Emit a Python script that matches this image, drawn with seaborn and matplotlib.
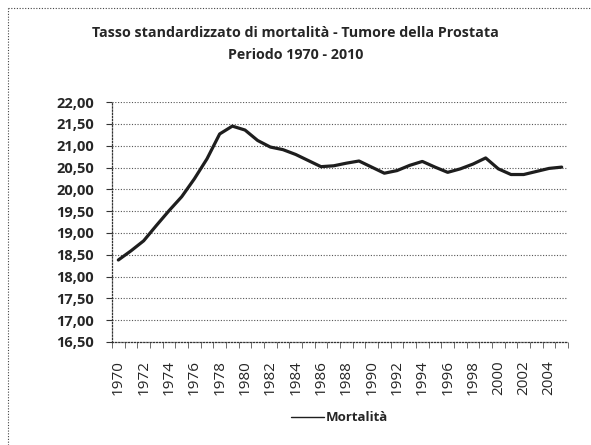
import matplotlib
matplotlib.use("Agg")
import matplotlib.pyplot as plt
import matplotlib.ticker as mticker
from matplotlib.lines import Line2D
import seaborn as sns
import pandas as pd

years = list(range(1970, 2006))
mortalita = [18.38, 18.59, 18.82, 19.17, 19.51, 19.83, 20.24, 20.70, 21.27, 21.45,
             21.36, 21.12, 20.97, 20.91, 20.80, 20.66, 20.52, 20.54, 20.60, 20.65,
             20.51, 20.37, 20.43, 20.55, 20.64, 20.51, 20.39, 20.47, 20.58, 20.72,
             20.47, 20.34, 20.34, 20.41, 20.48, 20.51]
series_name = "Mortalità"
title_lines = ["Tasso standardizzato di mortalità - Tumore della Prostata",
               "Periodo 1970 - 2010"]

df = pd.DataFrame({"Anno": years, series_name: mortalita})

sns.set_style("white")
plt.rcParams['font.family'] = ['Open Sans', 'DejaVu Sans']

fig = plt.figure(figsize=(5.91, 4.45), dpi=100)
ax = fig.add_axes([0.1895, 0.2315, 0.7716, 0.539])

sns.lineplot(data=df, x="Anno", y=series_name, ax=ax, color="#1e1e1e",
             linewidth=2.3, legend=False)

ax.set_xlim(1969.5, 2005.5)
ax.set_ylim(16.5, 22.0)
yvals = [16.5 + 0.5 * i for i in range(12)]
ax.set_yticks(yvals)
ax.set_yticklabels([f"{v:.2f}".replace(".", ",") for v in yvals],
                   fontweight="bold", fontsize=10.5)
ax.set_xticks(years[::2])
ax.set_xticklabels([str(y) for y in years[::2]], rotation=90, fontsize=11)
ax.xaxis.set_minor_locator(mticker.FixedLocator([y + 0.5 for y in range(1969, 2006)]))
ax.set_xlabel("")
ax.set_ylabel("")

ax.grid(axis="y", color="#555555", linestyle=(0, (1, 1.5)), linewidth=0.8)
ax.grid(axis="x", visible=False)
for s in ["top", "right"]:
    ax.spines[s].set_visible(False)
for s in ["left", "bottom"]:
    ax.spines[s].set_color("#333333")
    ax.spines[s].set_linestyle((0, (1, 1.5)))
    ax.spines[s].set_linewidth(0.9)

ax.tick_params(axis="y", which="major", length=4, direction="out", left=True,
               color="#333333", pad=9)
ax.tick_params(axis="x", which="major", length=0, pad=13)
ax.tick_params(axis="x", which="minor", length=4, direction="out", bottom=True,
               color="#555555")

fig.text(0.5, 0.926, title_lines[0], ha="center", va="center",
         fontsize=10.3, fontweight="bold")
fig.text(0.5, 0.876, title_lines[1], ha="center", va="center",
         fontsize=10.3, fontweight="bold")

handle = Line2D([0], [0], color="#1e1e1e", linewidth=1.0)
leg = fig.legend([handle], [series_name], loc="center", bbox_to_anchor=(0.574, 0.061),
                 frameon=False, handlelength=2.5, handletextpad=0.15,
                 prop={"weight": "bold", "size": 9.5})

fig.add_artist(Line2D([0.0135, 0.998], [0.982, 0.982], transform=fig.transFigure,
                      color="#444444", linestyle=(0, (1, 1.5)), linewidth=0.8))
fig.add_artist(Line2D([0.0135, 0.0135], [0.0, 0.982], transform=fig.transFigure,
                      color="#444444", linestyle=(0, (1, 1.5)), linewidth=0.8))

fig.savefig("out.png", dpi=100)
